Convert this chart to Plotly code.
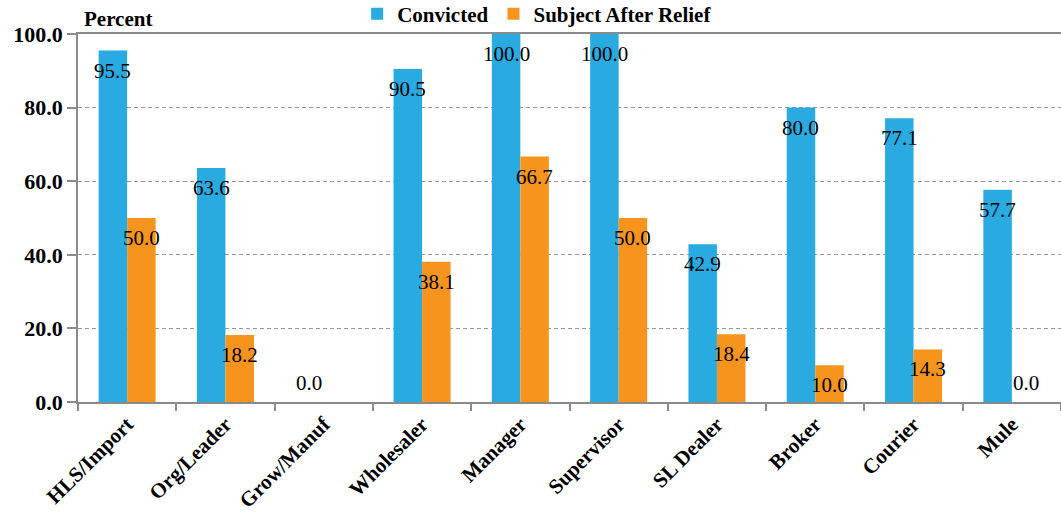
import plotly.graph_objects as go

# Share of each role that was convicted vs. subject after relief
categories = ["HLS/Import", "Org/Leader", "Grow/Manuf", "Wholesaler", "Manager",
              "Supervisor", "SL Dealer", "Broker", "Courier", "Mule"]
convicted = [95.5, 63.6, 0.0, 90.5, 100.0, 100.0, 42.9, 80.0, 77.1, 57.7]
after_relief = [50.0, 18.2, None, 38.1, 66.7, 50.0, 18.4, 10.0, 14.3, 0.0]
y_ticks = [0, 20, 40, 60, 80, 100]

BLUE = "#29abe2"
ORANGE = "#f7941d"
SERIF = "Liberation Serif"
AXIS_GREY = "#8a8a8a"

W, H = 1061, 515
M_L, M_R, M_T, M_B = 78, 0, 34, 113
BARGAP = 0.42

fig = go.Figure()
fig.add_trace(go.Bar(name="Convicted", x=categories, y=convicted,
                     marker=dict(color=BLUE, line=dict(width=0))))
fig.add_trace(go.Bar(name="Subject After Relief", x=categories, y=after_relief,
                     marker=dict(color=ORANGE, line=dict(width=0))))

# value labels, centred on each bar, just below its top (above the baseline for zeros)
plot_w = W - M_L - M_R
cat_w = plot_w / len(categories)
half_bar = cat_w * (1 - BARGAP) / 4
for series, shift in ((convicted, -half_bar), (after_relief, half_bar)):
    for cat, val in zip(categories, series):
        if val is None:
            continue
        fig.add_annotation(x=cat, y=val, xref="x", yref="y", text=f"{val:.1f}",
                           showarrow=False, xshift=shift,
                           yshift=19 if val == 0 else -20,
                           font=dict(family=SERIF, size=21, color="#000000"))

fig.add_annotation(x=0, y=1, xref="paper", yref="paper", xanchor="left", yanchor="bottom",
                   xshift=4, yshift=1, text="Percent", showarrow=False,
                   font=dict(family=SERIF, size=21, color="#000000", weight="bold"))

fig.update_layout(
    width=W, height=H,
    margin=dict(l=M_L, r=M_R, t=M_T, b=M_B, autoexpand=False),
    barmode="group", bargap=BARGAP, bargroupgap=0,
    plot_bgcolor="white", paper_bgcolor="white",
    showlegend=True,
    legend=dict(orientation="h", x=0.284, xanchor="left",
                yref="container", y=1 - 14 / H, yanchor="middle",
                font=dict(family=SERIF, size=21, color="#000000", weight="bold"),
                itemwidth=30, tracegroupgap=0, bgcolor="rgba(0,0,0,0)"),
    xaxis=dict(type="category", tickangle=-45, showline=True, linecolor=AXIS_GREY,
               linewidth=1.5, mirror=True, ticks="outside", tickson="boundaries",
               ticklen=7, tickcolor=AXIS_GREY, tickwidth=1.5, showgrid=False,
               tickfont=dict(family=SERIF, size=21, color="#000000", weight="bold")),
    yaxis=dict(range=[0, 100], tickvals=y_ticks, tickformat=".1f", showline=True,
               linecolor=AXIS_GREY, linewidth=1.5, ticks="outside", ticklen=9,
               tickcolor=AXIS_GREY, tickwidth=1.5, showgrid=True, gridcolor="#999999",
               griddash="4px,3px", gridwidth=1, zeroline=False,
               tickfont=dict(family=SERIF, size=22, color="#000000", weight="bold")),
)

fig.write_html("out.html")
